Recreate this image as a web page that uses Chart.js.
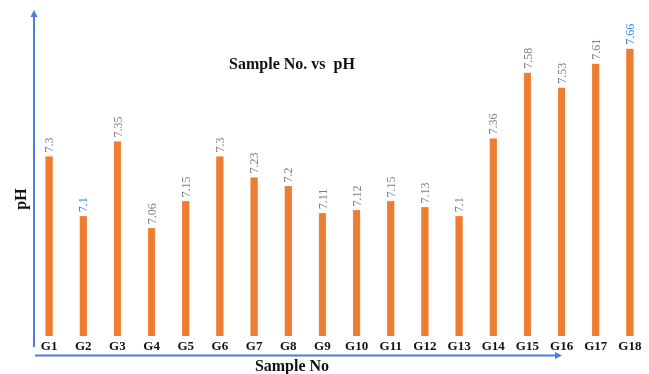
<!DOCTYPE html>
<html lang="en">
<head>
<title>Sample No. vs pH</title>
<script src="https://cdn.jsdelivr.net/npm/chart.js"></script>
<style>
    body { margin: 0; background: #fff; }
    #wrap { width: 649px; height: 374px; }
</style>
</head>
<body>
<div id="wrap"><canvas id="phChart"></canvas></div>
<script>
    // data
    const samples = ['G1', 'G2', 'G3', 'G4', 'G5', 'G6', 'G7', 'G8', 'G9', 'G10', 'G11', 'G12', 'G13', 'G14', 'G15', 'G16', 'G17', 'G18'];
    const phValues = [7.3, 7.1, 7.35, 7.06, 7.15, 7.3, 7.23, 7.2, 7.11, 7.12, 7.15, 7.13, 7.1, 7.36, 7.58, 7.53, 7.61, 7.66];
    const highlighted = ['G2', 'G18'];

    const serif = '"Liberation Serif", "Times New Roman", serif';
    const axisBlue = '#4a7fd8';

    const decorPlugin = {
        id: 'decor',
        afterDraw(chart) {
            const ctx = chart.ctx;
            ctx.save();

            // axis arrows
            ctx.strokeStyle = axisBlue;
            ctx.fillStyle = axisBlue;
            ctx.lineWidth = 2;
            ctx.beginPath();
            ctx.moveTo(34, 347);
            ctx.lineTo(34, 16);
            ctx.moveTo(35, 355.5);
            ctx.lineTo(556, 355.5);
            ctx.stroke();
            ctx.beginPath();
            ctx.moveTo(34, 10); ctx.lineTo(30.5, 17); ctx.lineTo(37.5, 17); ctx.closePath();
            ctx.fill();
            ctx.beginPath();
            ctx.moveTo(562, 355.5); ctx.lineTo(555, 352); ctx.lineTo(555, 359); ctx.closePath();
            ctx.fill();

            // value labels, rotated
            const meta = chart.getDatasetMeta(0);
            ctx.font = '12px ' + serif;
            ctx.textAlign = 'left';
            ctx.textBaseline = 'middle';
            meta.data.forEach((bar, i) => {
                ctx.save();
                ctx.translate(bar.x + 1, bar.y - 4);
                ctx.rotate(-Math.PI / 2);
                ctx.fillStyle = highlighted.includes(samples[i]) ? '#2f8ae0' : '#808080';
                ctx.fillText(String(phValues[i]), 0, 0);
                ctx.restore();
            });

            // titles
            ctx.fillStyle = '#111';
            ctx.textAlign = 'center';
            ctx.font = 'bold 16px ' + serif;
            ctx.fillText('Sample No. vs  pH', 292, 65);
            ctx.fillText('Sample No', 292, 367);
            ctx.save();
            ctx.translate(22, 199);
            ctx.rotate(-Math.PI / 2);
            ctx.fillText('pH', 0, 0);
            ctx.restore();

            ctx.restore();
        }
    };

    new Chart(document.getElementById('phChart'), {
        type: 'bar',
        data: {
            labels: samples,
            datasets: [{
                data: phValues,
                backgroundColor: '#ed7d31',
                borderColor: '#f39a5c',
                borderWidth: 0.5,
                barThickness: 7
            }]
        },
        options: {
            responsive: true,
            maintainAspectRatio: false,
            animation: false,
            layout: { padding: { left: 32, right: 2, top: 7, bottom: 0 } },
            plugins: {
                legend: { display: false },
                tooltip: { enabled: false }
            },
            scales: {
                x: {
                    grid: { display: false, drawTicks: false },
                    border: { display: false },
                    ticks: {
                        color: '#111',
                        font: { family: serif, size: 13, weight: 'bold' },
                        padding: 3,
                        maxRotation: 0,
                        autoSkip: false
                    },
                    afterFit(scale) { scale.height = 38; }
                },
                y: {
                    display: false,
                    min: 6.7,
                    max: 7.8
                }
            }
        },
        plugins: [decorPlugin]
    });
</script>
</body>
</html>
